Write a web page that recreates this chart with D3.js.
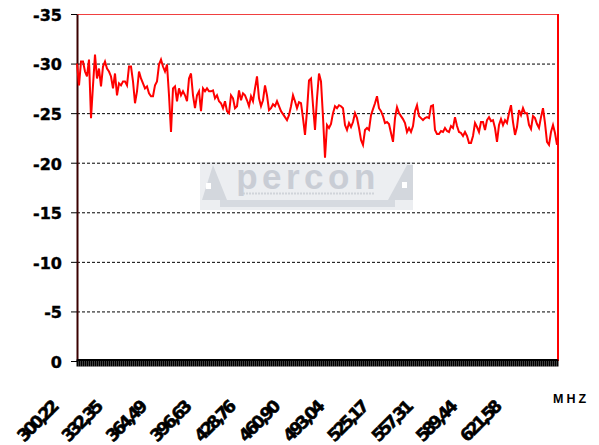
<!DOCTYPE html>
<html>
<head>
<meta charset="utf-8">
<script src="https://cdn.jsdelivr.net/npm/d3@7"></script>
<style>
  body { margin: 0; background: #fff; }
  svg { display: block; }
</style>
</head>
<body>
<div id="chart"></div>
<script>
'use strict';

// sweep: one reading every stepMHz from startMHz
var startMHz = 300.22,
    stepMHz = 1.4508;

// level in dB
var level = [
  -30.0, -27.8, -30.2, -30.2, -29.2, -28.7, -30.4, -24.5, -27.8, -30.9,
  -28.5, -29.5, -27.7, -29.7, -30.2, -29.5, -29.2, -28.7, -27.5, -29.0,
  -26.8, -28.0, -27.8, -28.2, -28.2, -27.8, -29.7, -29.7, -28.2, -26.0,
  -27.2, -29.2, -28.5, -28.0, -27.5, -27.7, -27.0, -26.7, -26.7, -27.8,
  -28.2, -29.9, -30.4, -29.7, -29.2, -29.9, -26.8, -23.1, -27.5, -27.7,
  -26.2, -27.5, -26.8, -27.2, -26.8, -26.2, -28.5, -29.0, -26.8, -25.5,
  -26.8, -27.2, -25.2, -27.5, -27.2, -27.5, -27.2, -27.2, -27.3, -26.5,
  -26.8, -26.2, -26.0, -25.5, -26.2, -25.2, -25.0, -26.8, -26.5, -25.5,
  -25.7, -27.3, -26.3, -27.0, -26.8, -26.3, -25.7, -26.7, -26.2, -27.5,
  -28.7, -26.5, -25.7, -26.3, -27.8, -26.8, -25.3, -25.5, -25.9, -25.7,
  -26.2, -25.7, -25.2, -24.9, -24.6, -24.3, -24.8, -25.7, -26.8, -26.2,
  -25.5, -26.1, -26.0, -24.5, -22.8, -25.2, -28.3, -28.5, -25.8, -23.3,
  -26.5, -29.0, -28.2, -24.6, -20.5, -23.8, -23.5, -23.9, -25.0, -25.7,
  -25.5, -25.8, -25.7, -25.5, -23.8, -23.3, -24.0, -23.6, -24.1, -25.0,
  -24.5, -23.5, -22.3, -21.8, -23.3, -23.5, -23.3, -24.8, -25.4, -26.0,
  -26.7, -25.5, -25.2, -24.7, -24.0, -24.1, -23.9, -23.0, -22.1, -24.5,
  -25.6, -25.0, -24.7, -24.4, -24.0, -23.1, -23.5, -23.1, -23.7, -25.2,
  -25.8, -24.7, -24.5, -24.3, -24.5, -24.6, -24.5, -25.7, -25.8, -23.3,
  -22.9, -22.9, -23.2, -23.1, -23.5, -23.2, -23.1, -23.7, -23.5, -24.6,
  -23.7, -23.1, -23.0, -22.7, -23.1, -22.7, -22.0, -22.0, -22.7, -24.0,
  -23.6, -23.1, -24.1, -24.1, -23.3, -24.3, -24.6, -24.2, -24.3, -23.5,
  -22.1, -23.8, -24.4, -23.8, -24.3, -24.0, -25.0, -25.8, -24.1, -22.8,
  -23.6, -25.3, -24.8, -25.5, -25.0, -25.0, -23.8, -23.4, -24.7, -24.5,
  -23.9, -23.5, -24.6, -25.5, -24.0, -22.1, -21.8, -23.1, -23.8, -23.0,
  -21.8
];

var yTicks = [-35, -30, -25, -20, -15, -10, -5, 0];
var tickMHz = [300.22, 332.35, 364.49, 396.63, 428.76, 460.90,
               493.04, 525.17, 557.31, 589.44, 621.58];
var tickLabels = ["300,22", "332,35", "364,49", "396,63", "428,76", "460,90",
                  "493,04", "525,17", "557,31", "589,44", "621,58"];
var unitLabel = "MHZ";
var logoText = "percon";

(function() {
  var width = 599,
      height = 445;
  var plotLeft = 77, plotRight = 557, plotTop = 14, plotBottom = 361;

  var freq = level.map(function(d, i) { return startMHz + i * stepMHz; });

  var x = d3.scaleLinear()
          .domain([startMHz, freq[freq.length - 1]])
          .range([plotLeft, plotRight]);
  var y = d3.scaleLinear()
          .domain([-35, 0])
          .range([plotTop, plotBottom]);

  var svg = d3.select("#chart").append("svg")
          .attr("width", width)
          .attr("height", height);

  // watermark logo
  var logo = svg.append("g").attr("transform", "translate(200,162)");
  logo.append("rect")
      .attr("width", 213).attr("height", 48)
      .attr("fill", "#eceef1");
  logo.append("path")
      .attr("d", "M2,38 L13,3 L27,38 Z")
      .attr("fill", "#d3d7dd");
  logo.append("rect")
      .attr("x", 6).attr("y", 21).attr("width", 5).attr("height", 6)
      .attr("fill", "#fff");
  logo.append("path")
      .attr("d", "M188,38 L207,3 L213,3 L213,38 Z")
      .attr("fill", "#d3d7dd");
  logo.append("rect")
      .attr("x", 202).attr("y", 20).attr("width", 5).attr("height", 6)
      .attr("fill", "#fff");
  logo.append("rect")
      .attr("x", 20).attr("y", 38).attr("width", 175).attr("height", 7)
      .attr("fill", "#d6dae0");
  logo.append("line")
      .attr("x1", 40).attr("x2", 175).attr("y1", 31.5).attr("y2", 31.5)
      .attr("stroke", "#d0d4da").attr("stroke-width", 2)
      .attr("stroke-dasharray", "2,1");
  logo.append("text")
      .attr("x", 108).attr("y", 26.5)
      .attr("text-anchor", "middle")
      .style("font-family", "'Liberation Sans', Arial, sans-serif")
      .style("font-weight", "bold")
      .style("font-size", "35px")
      .style("letter-spacing", "4.5px")
      .attr("fill", "#c9cdd5")
      .text(logoText);

  // grid
  svg.append("g")
      .selectAll("line")
      .data(yTicks.filter(function(d) { return d > -35 && d < 0; }))
      .enter().append("line")
      .attr("x1", plotLeft).attr("x2", plotRight)
      .attr("y1", function(d) { return y(d) + 0.5; })
      .attr("y2", function(d) { return y(d) + 0.5; })
      .attr("stroke", "#000")
      .attr("stroke-dasharray", "3,2");

  // plot frame top / right in red
  svg.append("line")
      .attr("x1", plotLeft).attr("x2", plotRight + 1)
      .attr("y1", y(-35) + 0.5).attr("y2", y(-35) + 0.5)
      .attr("stroke", "#f04040");
  svg.append("line")
      .attr("x1", plotRight + 1).attr("x2", plotRight + 1)
      .attr("y1", y(-35)).attr("y2", y(0))
      .attr("stroke", "#ff0000").attr("stroke-width", 2);

  // y axis
  var yAxis = svg.append("g")
      .attr("transform", "translate(" + plotLeft + ",0)")
      .call(d3.axisLeft(y).tickValues(yTicks).tickSize(6).tickSizeOuter(0)
            .tickPadding(9).tickFormat(function(d) { return String(d); }));
  yAxis.select(".domain").attr("stroke", "#3a0000").attr("stroke-width", 2);
  yAxis.selectAll(".tick line").attr("stroke", "#000");
  yAxis.selectAll("text")
      .attr("fill", "#000")
      .attr("dy", "0.4em")
      .attr("stroke", "#000")
      .attr("stroke-width", 0.4)
      .style("font-family", "'DejaVu Sans', sans-serif")
      .style("font-weight", "bold")
      .style("font-size", "16px");

  // the trace
  svg.append("path")
      .datum(level)
      .attr("fill", "none")
      .attr("stroke", "#ff0000")
      .attr("stroke-width", 2)
      .attr("d", d3.line()
          .x(function(d, i) { return x(freq[i]); })
          .y(function(d) { return y(d); }));

  // dense category ticks make the thick base band
  var xAxis = svg.append("g")
      .attr("transform", "translate(0," + (plotBottom - 1.5) + ")")
      .call(d3.axisBottom(x).tickValues(freq).tickSize(7).tickSizeOuter(0)
            .tickFormat(""));
  xAxis.select(".domain").attr("stroke", "#000").attr("stroke-width", 2);
  xAxis.selectAll(".tick line").attr("stroke", "#000").attr("stroke-width", 2);

  // rotated frequency labels
  svg.append("g")
      .selectAll("text")
      .data(tickMHz)
      .enter().append("text")
      .attr("transform", function(d) {
        return "translate(" + (x(d) - 19) + ",409) rotate(-45)";
      })
      .attr("text-anchor", "end")
      .attr("stroke", "#000")
      .attr("stroke-width", 0.6)
      .style("font-family", "'DejaVu Sans', sans-serif")
      .style("font-weight", "bold")
      .style("font-size", "17px")
      .style("letter-spacing", "-3px")
      .text(function(d, i) { return tickLabels[i]; });

  svg.append("text")
      .attr("x", 553).attr("y", 403)
      .style("font-family", "'Liberation Sans', Arial, sans-serif")
      .style("font-weight", "bold")
      .style("font-size", "12.5px")
      .style("letter-spacing", "3px")
      .text(unitLabel);
})();
</script>
</body>
</html>
